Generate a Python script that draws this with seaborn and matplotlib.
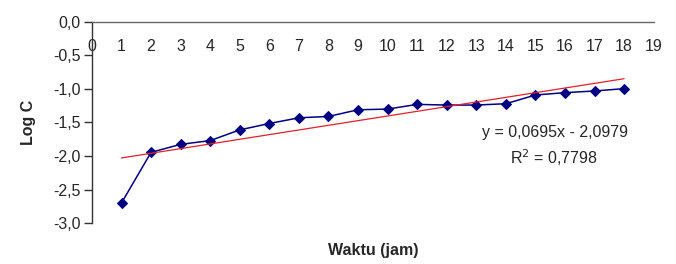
import numpy as np
import pandas as pd
import matplotlib
matplotlib.use("Agg")
import matplotlib.pyplot as plt
import seaborn as sns
from matplotlib.ticker import FuncFormatter

# data
waktu = [1, 2, 3, 4, 5, 6, 7, 8, 9, 10, 11, 12, 13, 14, 15, 16, 17, 18]
log_c = [-2.70, -1.945, -1.826, -1.77, -1.61, -1.515, -1.43, -1.41, -1.31,
         -1.30, -1.23, -1.24, -1.24, -1.22, -1.09, -1.055, -1.03, -0.995]

# linear trendline as printed on the chart
slope = 0.0695
intercept = -2.0979
r2 = 0.7798

sns.set_style("white")
plt.rcParams['font.family'] = ['Liberation Sans', 'DejaVu Sans']
fs = 11.5

df = pd.DataFrame({'Waktu': waktu, 'LogC': log_c})
trend_x = np.array([waktu[0], waktu[-1]])
trend = pd.DataFrame({'Waktu': trend_x, 'LogC': slope * trend_x + intercept})

fig = plt.figure(figsize=(6.76, 2.64), dpi=100)
ax = fig.add_axes([0.136, 0.155, 0.831, 0.762])

sns.lineplot(data=df, x='Waktu', y='LogC', ax=ax, color='#000080', lw=1.1,
             marker='D', markersize=5.5, markeredgecolor='#000080')
sns.lineplot(data=trend, x='Waktu', y='LogC', ax=ax, color='#e0202a', lw=0.9)

ax.set_xlim(0, 19)
ax.set_ylim(-3, 0)
ax.set_xticks(range(0, 20))
ax.set_yticks(np.arange(-3, 0.01, 0.5))

comma = FuncFormatter(lambda v, p: f"{v:.1f}".replace('.', ','))
ax.yaxis.set_major_formatter(comma)

for s in ['top', 'right']:
    ax.spines[s].set_visible(False)
ax.spines['bottom'].set_position(('data', 0))
ax.spines['bottom'].set_color('#666666')
ax.spines['left'].set_color('#333333')
ax.spines['bottom'].set_linewidth(1.0)
ax.spines['left'].set_linewidth(1.0)

ax.tick_params(axis='x', direction='in', length=4, width=1, color='#666666',
               labelsize=fs, pad=12)
ax.tick_params(axis='y', direction='out', length=6, width=1, color='#333333',
               labelsize=fs, pad=2, left=True)
for t in ax.get_xticklines():
    t.set_clip_on(False)

ax.set_xlabel('Waktu (jam)', fontsize=fs, fontweight='bold', labelpad=0)
ax.xaxis.set_label_coords(0.5, -0.1)
ax.set_ylabel('Log C', fontsize=fs, fontweight='bold')
ax.yaxis.set_label_coords(-0.1, 0.5)

ax.text(0.824, 0.448, 'y = 0,0695x - 2,0979', transform=ax.transAxes,
        ha='center', va='center', fontsize=fs)
ax.text(0.822, 0.323, 'R$^2$ = ' + f"{r2:.4f}".replace('.', ','),
        transform=ax.transAxes, ha='center', va='center', fontsize=fs)

fig.savefig('out.png', dpi=100)
